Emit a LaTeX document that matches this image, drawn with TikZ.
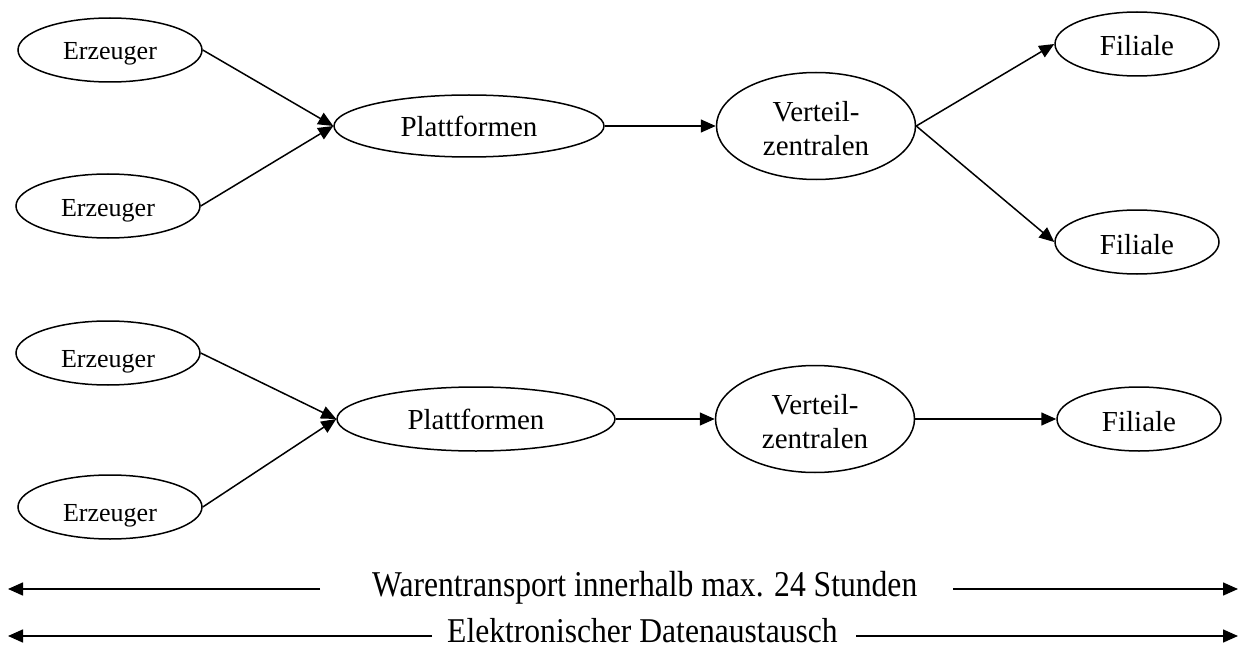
\documentclass[tikz,border=0pt]{standalone}
\usepackage{fontspec}
\setmainfont{Liberation Serif}
\usetikzlibrary{shapes.geometric,arrows.meta,calc}
\tikzset{
  ell/.style={draw, ellipse, line width=1.5pt, inner sep=0pt},
  erz/.style={ell, minimum width=184pt, minimum height=64pt, text height=20pt, text depth=0pt, font=\fontsize{26}{30}\selectfont},
  plat/.style={ell, minimum width=270pt, minimum height=62pt, font=\fontsize{29}{34}\selectfont},
  vert/.style={ell, minimum width=199pt, minimum height=107pt, align=center, font=\fontsize{29}{34}\selectfont},
  fil/.style={ell, minimum width=164pt, minimum height=64pt, text height=24pt, text depth=0pt, font=\fontsize{29}{34}\selectfont},
  conn/.style={line width=1.5pt, -{Triangle[length=15pt,width=13pt]}},
  lbl/.style={inner sep=0pt, anchor=base west, font=\fontsize{31.6}{36}\selectfont}
}
\begin{document}
\begin{tikzpicture}[x=1pt,y=-1pt]
\useasboundingbox (0,0) rectangle (1240,650);
% top row
\node[erz] (e1) at (110,50) {Erzeuger};
\node[erz] (e2) at (108,206) {Erzeuger};
\node[plat] (p1) at (469,126) {Plattformen};
\node[vert] (v1) at (816,126) {\rule{0pt}{26pt}Verteil-\\zentralen};
\node[fil] (f1) at (1137,44) {Filiale};
\node[fil] (f2) at (1137,242) {Filiale};
\draw[conn] (e1.east) -- (p1.west);
\draw[conn] (e2.east) -- (p1.west);
\draw[conn] (p1.east) -- (v1.west);
\draw[conn] (v1.east) -- (f1.west);
\draw[conn] (v1.east) -- (f2.west);
% bottom row
\node[erz, text height=28pt] (e3) at (108,353) {Erzeuger};
\node[erz, text height=28pt] (e4) at (110,507) {Erzeuger};
\node[plat, minimum width=278pt, minimum height=64pt] (p2) at (476,419) {Plattformen};
\node[vert] (v2) at (815,419) {\rule{0pt}{26pt}Verteil-\\zentralen};
\node[fil] (f3) at (1139,419) {Filiale};
\draw[conn] (e3.east) -- (p2.west);
\draw[conn] (e4.east) -- (p2.west);
\draw[conn] (p2.east) -- (v2.west);
\draw[conn] (v2.east) -- (f3.west);
% time lines
\node[lbl] (wt) at (372,596) {\scalebox{1}[1.15]{Warentransport innerhalb max. 24 Stunden}};
\node[lbl] (ed) at (447,642) {\scalebox{1}[1.1]{Elektronischer Datenaustausch}};
\coordinate (w1a) at (320,589);
\coordinate (w1b) at (8,589);
\coordinate (w2a) at (953,589);
\coordinate (w2b) at (1238,589);
\coordinate (d1a) at (432,636);
\coordinate (d1b) at (8,636);
\coordinate (d2a) at (856,636);
\coordinate (d2b) at (1238,636);
\draw[conn] (w1a) -- (w1b);
\draw[conn] (w2a) -- (w2b);
\draw[conn] (d1a) -- (d1b);
\draw[conn] (d2a) -- (d2b);
\end{tikzpicture}
\end{document}
